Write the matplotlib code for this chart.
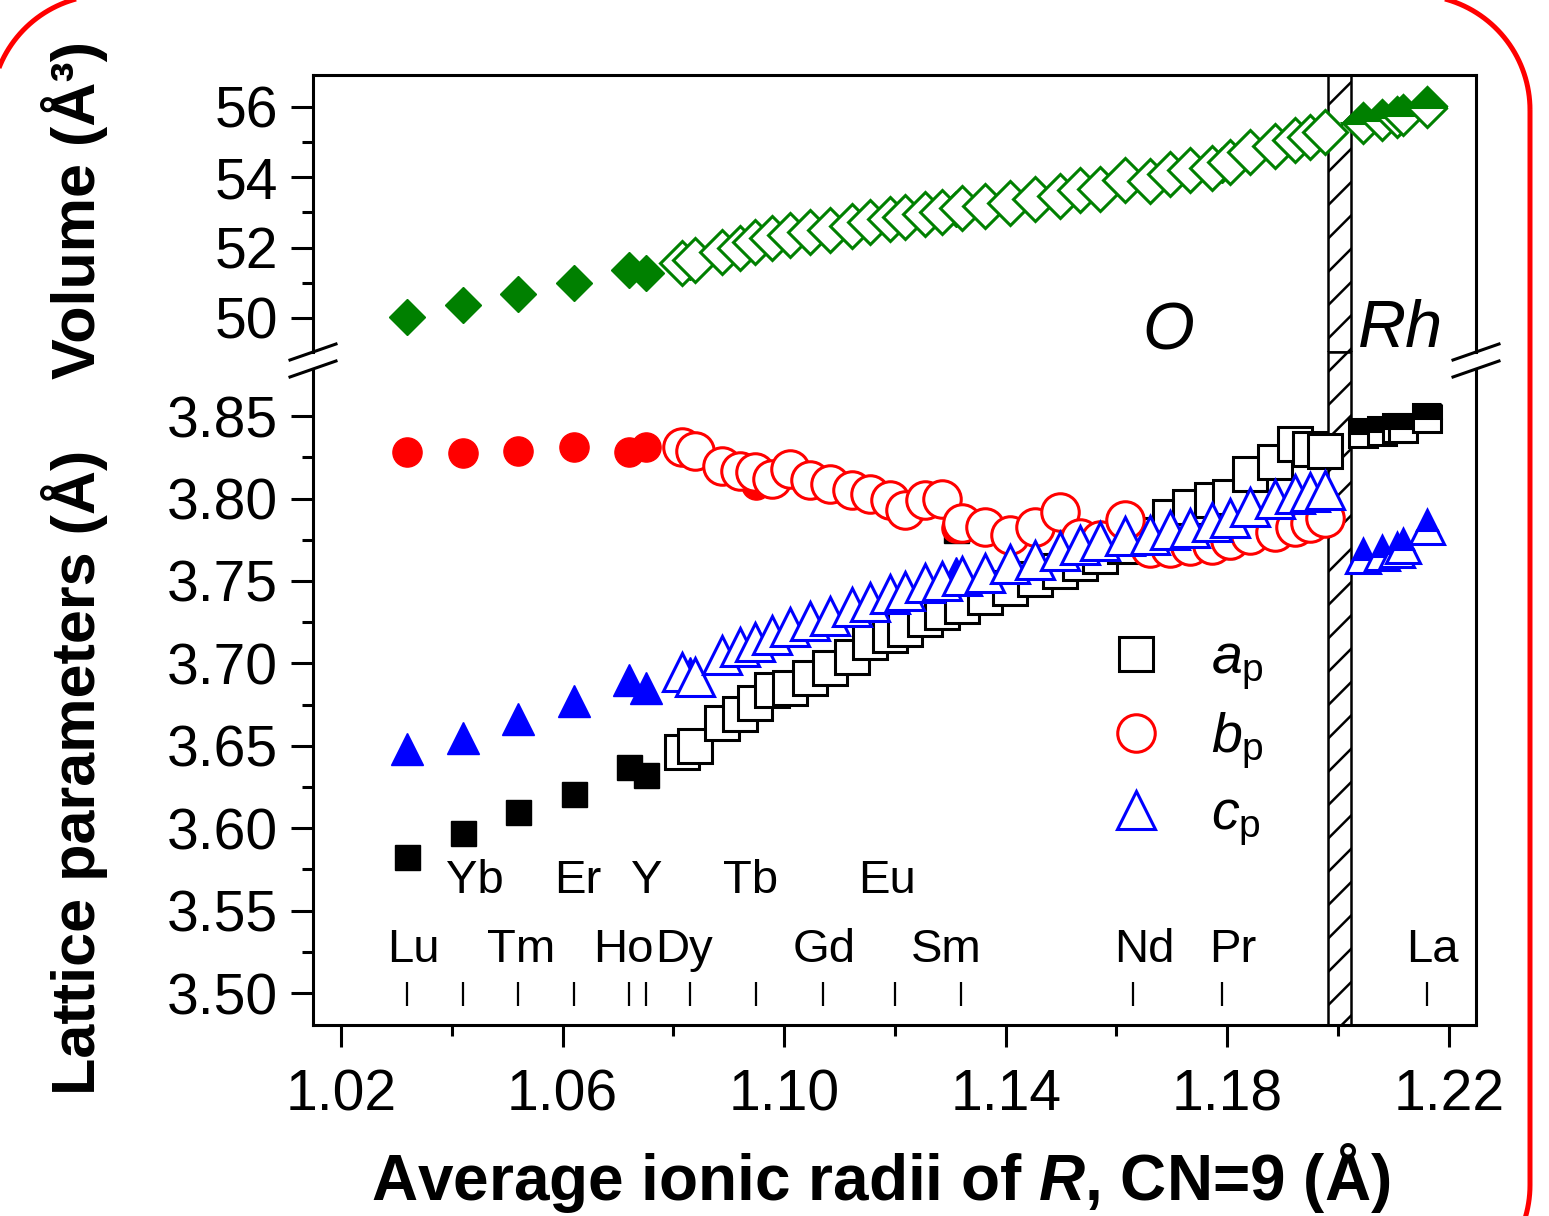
import matplotlib
matplotlib.use('Agg')
import matplotlib.pyplot as plt
from matplotlib.patches import Polygon
from matplotlib.lines import Line2D
from matplotlib.transforms import IdentityTransform
import numpy as np

plt.rcParams['font.family'] = ['Liberation Sans', 'DejaVu Sans']
plt.rcParams['mathtext.fontset'] = 'custom'
plt.rcParams['mathtext.rm'] = 'Liberation Sans'
plt.rcParams['mathtext.it'] = 'Liberation Sans:italic'
plt.rcParams['mathtext.bf'] = 'Liberation Sans:bold'
plt.rcParams['mathtext.bfit'] = 'Liberation Sans:italic:bold'
plt.rcParams['hatch.linewidth'] = 1.8

# --- data -------------------------------------------------------------
# pure R end members, orthorhombic, filled symbols
r_pure = [1.032, 1.042, 1.052, 1.062, 1.072, 1.075]
v_pure = [50.03, 50.37, 50.68, 51.00, 51.36, 51.28]
a_pure = [3.5825, 3.597, 3.610, 3.621, 3.637, 3.632]
b_pure = [3.828, 3.8277, 3.829, 3.831, 3.828, 3.831]
c_pure = [3.648, 3.655, 3.666, 3.677, 3.690, 3.685]

# filled symbols mostly hidden under the open ones (Dy, Tb, Sm, Pr)
r_hid = [1.083, 1.095, 1.131, 1.179]
v_hid = [51.60, 52.10, 53.10, 54.35]
a_hid = [3.652, 3.679, 3.781, 3.771]
b_hid = [3.829, 3.808, 3.782, 3.779]
c_hid = [3.694, 3.714, 3.755, 3.785]

# mixed-R samples, orthorhombic, open symbols
r_o = [1.0816, 1.0839, 1.0888, 1.0920, 1.0947, 1.0978, 1.1010, 1.1047, 1.1083,
       1.1122, 1.1155, 1.1191, 1.1218, 1.1254, 1.1285, 1.1321, 1.1362, 1.1408,
       1.1453, 1.1498, 1.1534, 1.1570, 1.1615, 1.1660, 1.1696, 1.1733, 1.1772,
       1.1805, 1.1841, 1.1886, 1.1922, 1.1949, 1.1976]
v_o = [51.56, 51.65, 51.88, 51.99, 52.16, 52.27, 52.36, 52.45, 52.50,
       52.62, 52.73, 52.81, 52.87, 52.96, 53.01, 53.13, 53.18, 53.27,
       53.38, 53.47, 53.64, 53.67, 53.92, 53.90, 54.09, 54.21, 54.26,
       54.44, 54.72, 54.89, 55.06, 55.15, 55.29]
a_o = [3.646, 3.650, 3.664, 3.669, 3.676, 3.684, 3.685, 3.691, 3.697,
       3.704, 3.713, 3.717, 3.721, 3.727, 3.731, 3.735, 3.740, 3.746,
       3.751, 3.756, 3.761, 3.765, 3.771, 3.778, 3.789, 3.795, 3.799,
       3.801, 3.815, 3.822, 3.833, 3.830, 3.829]
b_o = [3.831, 3.829, 3.820, 3.817, 3.816, 3.812, 3.818, 3.811, 3.809,
       3.805, 3.803, 3.799, 3.793, 3.799, 3.800, 3.785, 3.783, 3.778,
       3.783, 3.792, 3.776, 3.775, 3.787, 3.770, 3.770, 3.771, 3.772,
       3.775, 3.778, 3.780, 3.783, 3.785, 3.788]
c_o = [3.695, 3.692, 3.705, 3.710, 3.713, 3.717, 3.722, 3.726, 3.729,
       3.734, 3.737, 3.742, 3.744, 3.749, 3.750, 3.753, 3.755, 3.760,
       3.763, 3.768, 3.772, 3.774, 3.777, 3.778, 3.781, 3.782, 3.786,
       3.788, 3.795, 3.800, 3.803, 3.804, 3.805]

# rhombohedral samples (half filled)
r_rh = [1.2045, 1.2079, 1.2106, 1.2117, 1.2160]
v_rh = [55.54, 55.63, 55.72, 55.77, 56.00]
a_rh = [3.840, 3.841, 3.843, 3.843, 3.849]
c_rh = [3.765, 3.767, 3.769, 3.771, 3.783]

# element ionic radii (CN=9) markers
elements = ['Lu', 'Yb', 'Tm', 'Er', 'Ho', 'Y', 'Dy', 'Tb', 'Gd', 'Eu', 'Sm', 'Nd', 'Pr', 'La']
el_radii = [1.032, 1.042, 1.052, 1.062, 1.072, 1.075, 1.083, 1.095, 1.107, 1.120,
            1.132, 1.163, 1.179, 1.216]
upper_row = ['Yb', 'Er', 'Y', 'Tb', 'Eu']
label_shift = {'Lu': 4, 'Yb': 9, 'Tm': 2, 'Er': 3, 'Ho': -4, 'Y': 1, 'Dy': -4,
               'Tb': -4, 'Gd': 1, 'Eu': -6, 'Sm': -11, 'Nd': 8, 'Pr': 8, 'La': 4}

band = (1.1982, 1.2023)

# --- figure -----------------------------------------------------------
W, H = 1549, 1216
fig = plt.figure(figsize=(W / 100, H / 100), dpi=100)
fig.patch.set_facecolor('white')


def px_rect(x0, x1, ytop, ybot):
    return [x0 / W, 1 - ybot / H, (x1 - x0) / W, (ybot - ytop) / H]


ax_v = fig.add_axes(px_rect(313, 1476, 75, 352))
ax_l = fig.add_axes(px_rect(313, 1476, 369, 1025))

xlim = (1.01495, 1.2249)
for ax in (ax_v, ax_l):
    ax.set_xlim(*xlim)
    for s in ax.spines.values():
        s.set_linewidth(2.2)
    ax.tick_params(axis='y', which='major', direction='out', length=16, width=2.2,
                   labelsize=41, pad=9, right=False)
    ax.tick_params(axis='y', which='minor', direction='out', length=8, width=2.2, right=False)

ax_v.set_ylim(49.033, 56.909)
ax_l.set_ylim(3.4806, 3.8786)
ax_v.spines['bottom'].set_visible(False)
ax_l.spines['top'].set_visible(False)
ax_v.set_xticks([])
ax_v.set_yticks([50, 52, 54, 56])
ax_v.set_yticks([51, 53, 55], minor=True)
ax_l.set_yticks(np.arange(3.50, 3.851, 0.05))
ax_l.set_yticks(np.arange(3.525, 3.86, 0.05), minor=True)
ax_l.set_yticklabels(['%.2f' % t for t in np.arange(3.50, 3.851, 0.05)])
ax_l.set_xticks(np.arange(1.02, 1.221, 0.04))
ax_l.set_xticks(np.arange(1.04, 1.221, 0.04), minor=True)
ax_l.set_xticklabels(['%.2f' % t for t in np.arange(1.02, 1.221, 0.04)])
ax_l.tick_params(axis='x', which='major', direction='out', length=16, width=2.2,
                 labelsize=41, pad=15, top=False)
ax_l.tick_params(axis='x', which='minor', direction='out', length=8, width=2.2, top=False)

# hatched boundary between O and Rh
ax_v.axvspan(*band, facecolor='white', edgecolor='black', hatch='/', lw=1.8, zorder=1)
ax_l.axvspan(*band, ymax=1 + 17 / 656, facecolor='white', edgecolor='black', hatch='/',
             lw=1.8, zorder=1, clip_on=False)

green, red, blue = '#008000', '#FF0000', '#0000FF'
open_lw = 2.2

# volume
ax_v.plot(r_hid, v_hid, 'D', ms=18, color=green, zorder=2)
ax_v.plot(r_o, v_o, 'D', ms=22, mfc='white', mec=green, mew=open_lw, ls='none', zorder=3)
ax_v.plot(r_pure, v_pure, 'D', ms=18, color=green, ls='none', zorder=4)
ax_v.plot(r_rh, v_rh, 'D', ms=20, color=green, fillstyle='top', mfc=green,
          mfcalt='white', mec=green, mew=open_lw, ls='none', zorder=4)

# lattice parameters
ax_l.plot(r_hid, a_hid, 's', ms=18, color='black', ls='none', zorder=2)
ax_l.plot(r_hid, b_hid, 'o', ms=21, color=red, ls='none', zorder=2)
ax_l.plot(r_hid, c_hid, '^', ms=23, color=blue, ls='none', zorder=2)
h_a, = ax_l.plot(r_o, a_o, 's', ms=24, mfc='white', mec='black', mew=open_lw, ls='none', zorder=3)
h_b, = ax_l.plot(r_o, b_o, 'o', ms=27, mfc='white', mec=red, mew=open_lw, ls='none', zorder=4)
h_c, = ax_l.plot(r_o, c_o, '^', ms=28, mfc='white', mec=blue, mew=open_lw, ls='none', zorder=5)
ax_l.plot(r_pure, a_pure, 's', ms=18, color='black', ls='none', zorder=6)
ax_l.plot(r_pure, b_pure, 'o', ms=21, color=red, ls='none', zorder=6)
ax_l.plot(r_pure, c_pure, '^', ms=23, color=blue, ls='none', zorder=6)
ax_l.plot(r_rh, a_rh, 's', ms=20, fillstyle='top', mfc='black', mfcalt='white', mec='black',
          mew=open_lw, ls='none', zorder=6)
ax_l.plot(r_rh, c_rh, '^', ms=24, fillstyle='top', mfc=blue, mfcalt='white', mec=blue,
          mew=open_lw, ls='none', zorder=6)

# element radius markers and names
ax_l.vlines(el_radii, 3.4921, 3.5067, color='black', lw=1.6, zorder=2)
for name, r in zip(elements, el_radii):
    y = 3.5607 if name in upper_row else 3.5188
    ax_l.annotate(name, (r, y), xytext=(label_shift[name], 0), textcoords='offset points',
                  ha='center', va='baseline', fontsize=34, zorder=7)

ax_l.legend([h_a, h_b, h_c], [r'$a_\mathrm{p}$', r'$b_\mathrm{p}$', r'$c_\mathrm{p}$'],
            loc='upper left', bbox_to_anchor=(1108 / W, 1 - 633 / H),
            bbox_transform=fig.transFigure, frameon=False, fontsize=40, numpoints=1,
            handlelength=1.0, handletextpad=0.85, labelspacing=0.34, borderpad=0,
            borderaxespad=0)

# phase labels
fig.text(1168 / W, 1 - 333 / H, 'O', fontsize=48, style='italic', ha='center', va='center')
fig.text(1401 / W, 1 - 330 / H, 'Rh', fontsize=48, style='italic', ha='center', va='center')

# axis labels
fig.text(881 / W, 1 - 1200 / H, r'Average ionic radii of $\mathbfit{R}$, CN=9 (Å)',
         fontsize=46, fontweight='bold', ha='center', va='baseline')
fig.text(75 / W, 1 - 772 / H, 'Lattice parameters (Å)', rotation=90, fontsize=44,
         fontweight='bold', ha='center', va='center')
fig.text(75 / W, 1 - 210 / H, 'Volume (Å³)', rotation=90, fontsize=44,
         fontweight='bold', ha='center', va='center')

# axis break marks
for xc in (313, 1476):
    for yc in (352, 369):
        fig.add_artist(Line2D([(xc - 23) / W, (xc + 23) / W],
                              [1 - (yc + 8) / H, 1 - (yc - 8) / H],
                              color='black', lw=2.2, transform=fig.transFigure))

# red rounded frame around the panel (pixel coordinates, y up)
left, right, bottom, top, rad = -9, 1530, H - 1300, H + 5, 115
pts = []
for (cx, cy), a0 in (((right - rad, top - rad), 0), ((left + rad, top - rad), 90),
                     ((left + rad, bottom + rad), 180), ((right - rad, bottom + rad), 270)):
    t = np.radians(np.linspace(a0, a0 + 90, 40))
    pts += list(zip(cx + rad * np.cos(t), cy + rad * np.sin(t)))
frame = Polygon(pts, closed=True, fill=False, edgecolor='red', lw=3.6,
                transform=IdentityTransform())
fig.add_artist(frame)

fig.savefig('out.png', dpi=100)
